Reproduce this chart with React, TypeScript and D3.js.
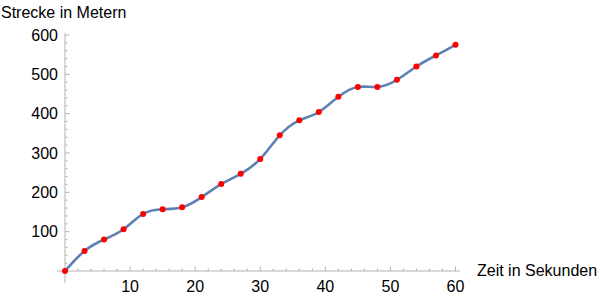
import React from "react";
import * as d3 from "d3";

const times = [0, 3, 6, 9, 12, 15, 18, 21, 24, 27, 30, 33, 36, 39, 42, 45, 48, 51, 54, 57, 60];
const distances = [0, 51, 80, 106, 145, 157, 162, 188, 221, 247, 285, 345, 383, 404, 443, 468, 468, 486, 520, 548, 575];
const xTicks = [10, 20, 30, 40, 50, 60];
const yTicks = [100, 200, 300, 400, 500, 600];
const xLabel = "Zeit in Sekunden";
const yLabel = "Strecke in Metern";

const W = 603;
const H = 300;

export default function App() {
  const x = d3.scaleLinear().domain([0, 60]).range([65, 455.5]);
  const y = d3.scaleLinear().domain([0, 600]).range([271, 35]);
  const data = times.map((t, i) => ({ t, d: distances[i] }));
  const line = d3
    .line<{ t: number; d: number }>()
    .x((p) => x(p.t))
    .y((p) => y(p.d))
    .curve(d3.curveNatural);

  const xMinor = d3.range(2, 61, 2).filter((v) => v % 10 !== 0);
  const yMinor = d3.range(20, 601, 20).filter((v) => v % 100 !== 0);
  const font = "'Liberation Sans', Arial, sans-serif";
  const axisColor = "#b3b3b3";

  return (
    <svg
      width={W}
      height={H}
      style={{ position: "absolute", left: 0, top: 0 }}
      fontFamily={font}
    >
      <rect width={W} height={H} fill="white" />
      {/* axes */}
      <line x1={x(-1.2)} x2={x(60.7)} y1={y(0)} y2={y(0)} stroke={axisColor} strokeWidth={1} />
      <line x1={x(0)} x2={x(0)} y1={y(-31)} y2={y(605)} stroke={axisColor} strokeWidth={1} />
      {/* x ticks */}
      {xTicks.map((v) => (
        <line key={"xt" + v} x1={x(v)} x2={x(v)} y1={y(0)} y2={y(0) - 4.5} stroke={axisColor} />
      ))}
      {xMinor.map((v) => (
        <line key={"xm" + v} x1={x(v)} x2={x(v)} y1={y(0)} y2={y(0) - 2.5} stroke={axisColor} />
      ))}
      {/* y ticks */}
      {yTicks.map((v) => (
        <line key={"yt" + v} x1={x(0)} x2={x(0) + 4.5} y1={y(v)} y2={y(v)} stroke={axisColor} />
      ))}
      {yMinor.map((v) => (
        <line key={"ym" + v} x1={x(0)} x2={x(0) + 2.5} y1={y(v)} y2={y(v)} stroke={axisColor} />
      ))}
      {/* tick labels */}
      {xTicks.map((v) => (
        <text key={"xl" + v} x={x(v)} y={292} textAnchor="middle" fontSize={16} fill="#000">
          {v}
        </text>
      ))}
      {yTicks.map((v) => (
        <text key={"yl" + v} x={58} y={y(v) + 5.5} textAnchor="end" fontSize={16} fill="#000">
          {v}
        </text>
      ))}
      {/* axis labels */}
      <text x={1} y={18} fontSize={16} fill="#000">
        {yLabel}
      </text>
      <text x={477} y={276} fontSize={16} fill="#000">
        {xLabel}
      </text>
      {/* curve */}
      <path d={line(data) || ""} fill="none" stroke="#5E81B5" strokeWidth={2.6} />
      {/* points */}
      {data.map((p, i) => (
        <circle key={"p" + i} cx={x(p.t)} cy={y(p.d)} r={3} fill="#FF0000" />
      ))}
    </svg>
  );
}
